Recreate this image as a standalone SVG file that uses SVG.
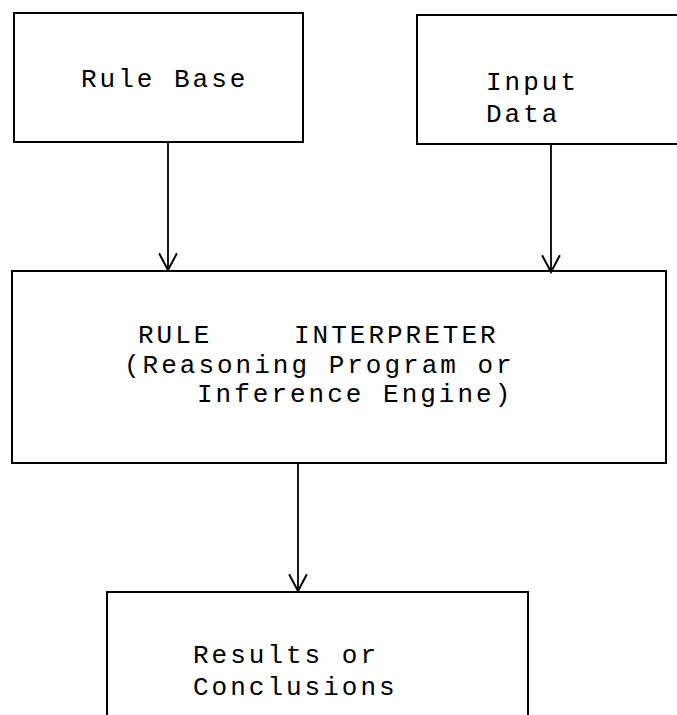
<svg xmlns="http://www.w3.org/2000/svg" width="677" height="715" viewBox="0 0 677 715">
<style>
.box{fill:none;stroke:#000;stroke-width:2}
.lbl{font-family:"Liberation Mono","Courier New",monospace;font-size:26px;letter-spacing:3px;fill:#000}
.con{fill:none;stroke:#000;stroke-width:1.8}
</style>
<defs>
<marker id="arr" markerUnits="userSpaceOnUse" markerWidth="20" markerHeight="20" refX="9" refY="16" orient="0" viewBox="0 0 18 18">
<path d="M1,1 L9,16 L17,1" fill="none" stroke="#000" stroke-width="1.8"/>
</marker>
</defs>
<rect width="677" height="715" fill="#fff"/>
<g id="rule-base">
<rect class="box" x="14" y="13" width="289" height="129"/>
<text class="lbl" x="81" y="87">Rule Base</text>
</g>
<g id="input-data">
<rect class="box" x="417" y="15" width="300" height="129"/>
<text class="lbl" x="486" y="90">Input</text>
<text class="lbl" x="486" y="122">Data</text>
</g>
<g id="rule-interpreter">
<rect class="box" x="12" y="271" width="654" height="192"/>
<text class="lbl" x="138" y="343">RULE</text>
<text class="lbl" x="294" y="343">INTERPRETER</text>
<text class="lbl" x="124" y="373">(Reasoning Program or</text>
<text class="lbl" x="197" y="402">Inference Engine)</text>
</g>
<g id="results">
<rect class="box" x="107" y="592" width="421" height="140"/>
<text class="lbl" x="193" y="663">Results or</text>
<text class="lbl" x="193" y="695">Conclusions</text>
</g>
<g id="connectors">
<line class="con" x1="168" y1="142" x2="168" y2="270" marker-end="url(#arr)"/>
<line class="con" x1="551" y1="144" x2="551" y2="272" marker-end="url(#arr)"/>
<line class="con" x1="298" y1="463" x2="298" y2="591" marker-end="url(#arr)"/>
</g>
</svg>
